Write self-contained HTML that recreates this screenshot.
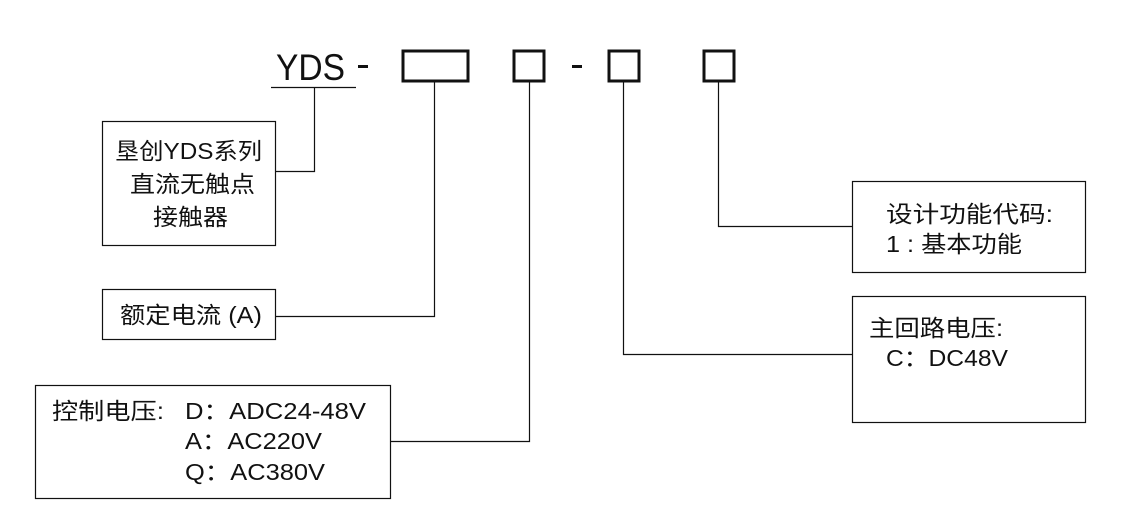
<!DOCTYPE html>
<html><head><meta charset="utf-8"><style>
html,body{margin:0;padding:0;background:#fff;}
svg{display:block;}
text{font-family:"Liberation Sans","Noto Sans CJK SC",sans-serif;fill:#111;}
</style></head><body>
<svg width="1130" height="521" viewBox="0 0 1130 521" xmlns="http://www.w3.org/2000/svg">
<rect width="1130" height="521" fill="#fff"/>
<text x="276" y="80" font-size="37" textLength="69" lengthAdjust="spacingAndGlyphs">YDS</text>
<rect x="358" y="65" width="10" height="3" fill="#111"/>
<rect x="572" y="65" width="10" height="3" fill="#111"/>
<line x1="271" y1="87.5" x2="356" y2="87.5" stroke="#111" stroke-width="1.2"/>
<g fill="none" stroke="#111" stroke-width="3">
<rect x="403" y="51" width="65" height="30"/>
<rect x="514" y="51" width="30" height="30"/>
<rect x="609" y="51" width="30" height="30"/>
<rect x="704" y="51" width="30" height="30"/>
</g>
<g fill="none" stroke="#111" stroke-width="1.2">
<polyline points="314.5,87 314.5,171.5 276,171.5"/>
<polyline points="434.5,82 434.5,316.5 276,316.5"/>
<polyline points="529.5,82 529.5,441.5 391,441.5"/>
<polyline points="623.5,82 623.5,354.5 853,354.5"/>
<polyline points="718.5,82 718.5,226.5 853,226.5"/>
<rect x="102.5" y="121.5" width="173" height="124"/>
<rect x="102.5" y="289.5" width="173" height="50"/>
<rect x="35.5" y="385.5" width="355" height="113"/>
<rect x="852.5" y="181.5" width="233" height="91"/>
<rect x="852.5" y="296.5" width="233" height="126"/>
</g>
<g font-size="23" lengthAdjust="spacingAndGlyphs">
<text x="115" y="159" textLength="147" lengthAdjust="spacingAndGlyphs">垦创YDS系列</text>
<text x="130" y="192" textLength="125" lengthAdjust="spacingAndGlyphs">直流无触点</text>
<text x="153" y="225" textLength="75" lengthAdjust="spacingAndGlyphs">接触器</text>
<text x="120" y="323" textLength="142" lengthAdjust="spacingAndGlyphs">额定电流 (A)</text>
<text x="52" y="419" textLength="112" lengthAdjust="spacingAndGlyphs">控制电压:</text>
<text x="185" y="419" textLength="181" lengthAdjust="spacingAndGlyphs">D：ADC24-48V</text>
<text x="185" y="449" textLength="137" lengthAdjust="spacingAndGlyphs">A：AC220V</text>
<text x="185" y="480" textLength="140" lengthAdjust="spacingAndGlyphs">Q：AC380V</text>
<text x="886" y="222" textLength="167" lengthAdjust="spacingAndGlyphs">设计功能代码:</text>
<text x="886" y="252" textLength="136" lengthAdjust="spacingAndGlyphs">1 : 基本功能</text>
<text x="869" y="336" textLength="134" lengthAdjust="spacingAndGlyphs">主回路电压:</text>
<text x="886" y="366" textLength="122" lengthAdjust="spacingAndGlyphs">C：DC48V</text>
</g>
</svg>
</body></html>
